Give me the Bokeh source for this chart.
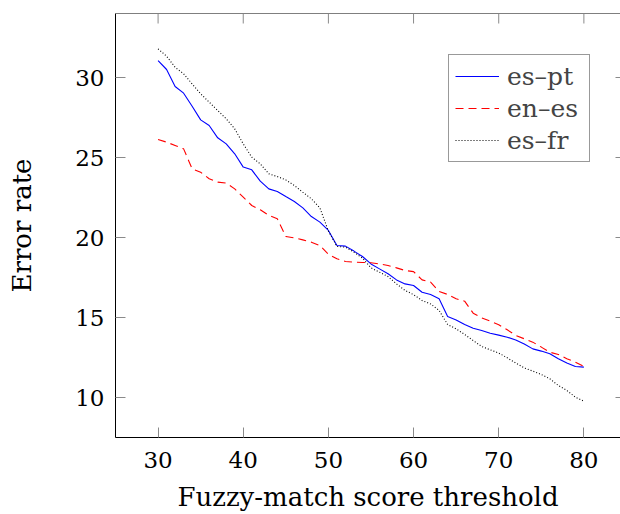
import math
from bokeh.plotting import figure
from bokeh.models import Range1d, FixedTicker, Legend, LegendItem, ColumnDataSource
from bokeh.embed import file_html
from bokeh.resources import INLINE

thresholds = list(range(30, 81))
es_pt = [31.06, 30.5, 29.44, 29.02, 28.2, 27.35, 27.0, 26.23, 25.85, 25.23,
         24.4, 24.23, 23.52, 23.04, 22.88, 22.56, 22.25, 21.85, 21.31, 20.96,
         20.44, 19.5, 19.46, 19.15, 18.81, 18.35, 18.04, 17.73, 17.35, 17.1,
         17.0, 16.58, 16.44, 16.17, 15.06, 14.85, 14.56, 14.33, 14.19, 14.02,
         13.9, 13.77, 13.6, 13.35, 13.04, 12.9, 12.73, 12.42, 12.15, 11.94, 11.9]
en_es = [26.13, 25.96, 25.75, 25.54, 24.29, 24.08, 23.67, 23.46, 23.4, 23.04,
         22.52, 22.0, 21.73, 21.38, 21.17, 20.06, 19.98, 19.85, 19.71, 19.5,
         18.95, 18.67, 18.5, 18.46, 18.44, 18.42, 18.35, 18.25, 18.1, 17.94,
         17.87, 17.35, 17.21, 16.63, 16.44, 16.17, 16.02, 15.27, 14.98, 14.77,
         14.55, 14.23, 13.88, 13.67, 13.46, 13.15, 12.83, 12.69, 12.42, 12.21, 11.94]
es_fr = [31.79, 31.33, 30.64, 30.23, 29.6, 28.98, 28.46, 27.94, 27.42, 26.79,
         25.85, 25.02, 24.6, 23.98, 23.81, 23.6, 23.25, 22.83, 22.42, 21.85,
         20.4, 19.44, 19.4, 19.08, 18.71, 18.1, 17.83, 17.56, 17.1, 16.69,
         16.43, 16.06, 15.85, 15.44, 14.56, 14.29, 13.94, 13.56, 13.19, 12.98,
         12.78, 12.48, 12.15, 11.85, 11.65, 11.44, 11.17, 10.75, 10.44, 10.02, 9.77]
x_ticks = [30, 40, 50, 60, 70, 80]
y_ticks = [10, 15, 20, 25, 30]
series_labels = ["es\u2013pt", "en\u2013es", "es\u2013fr"]

X_MIN, X_MAX = 25, 84.3
Y_MIN, Y_MAX = 7.5, 34

FONT = "DejaVu Serif"
TICK_FS = "23px"
LABEL_FS = "26px"
LEGEND_FS = "25px"
TICK_COLOR = "#8a8a8a"

src = ColumnDataSource(dict(x=thresholds, es_pt=es_pt, en_es=en_es, es_fr=es_fr))

p = figure(width=620, height=514, x_range=Range1d(X_MIN, X_MAX), y_range=Range1d(Y_MIN, Y_MAX),
           min_border_left=115, min_border_right=0, min_border_top=13, min_border_bottom=77,
           output_backend="svg", toolbar_location=None, background_fill_color="white",
           border_fill_color="white")
p.outline_line_color = None
p.xgrid.visible = False
p.ygrid.visible = False

def style_axis(ax):
    ax.axis_line_color = "black"
    ax.axis_line_width = 1
    ax.major_tick_in = 10
    ax.major_tick_out = 0
    ax.major_tick_line_color = TICK_COLOR
    ax.minor_tick_line_color = None
    ax.major_label_text_font = FONT
    ax.major_label_text_font_size = TICK_FS
    ax.major_label_text_color = "black"
    ax.axis_label_text_font = FONT
    ax.axis_label_text_font_size = LABEL_FS
    ax.axis_label_text_font_style = "normal"
    ax.axis_label_text_color = "black"

xa = p.xaxis[0]
xa.ticker = FixedTicker(ticks=x_ticks)
xa.axis_label = "Fuzzy-match score threshold"
style_axis(xa)
xa.major_label_standoff = 14
xa.axis_label_standoff = 11

ya = p.yaxis[0]
ya.ticker = FixedTicker(ticks=y_ticks)
ya.axis_label = "Error rate"
style_axis(ya)
ya.major_label_standoff = 11
ya.axis_label_standoff = 35

# top border line and mirrored ticks
p.line([X_MIN, X_MAX], [Y_MAX, Y_MAX], line_color="black", line_width=1)
p.ray(x=x_ticks, y=[Y_MAX] * len(x_ticks), length=10, length_units="screen",
      angle=-math.pi / 2, line_color=TICK_COLOR, line_width=1)
p.ray(x=[X_MAX] * len(y_ticks), y=y_ticks, length=5, length_units="screen",
      angle=math.pi, line_color=TICK_COLOR, line_width=1)

r1 = p.line("x", "es_pt", source=src, line_color="#0000ff", line_width=1.1)
r2 = p.line("x", "en_es", source=src, line_color="#ff0000", line_width=1.1, line_dash="8 5")
r3 = p.line("x", "es_fr", source=src, line_color="black", line_width=1.1, line_dash="1 2")

legend = Legend(items=[LegendItem(label=series_labels[0], renderers=[r1]),
                       LegendItem(label=series_labels[1], renderers=[r2]),
                       LegendItem(label=series_labels[2], renderers=[r3])],
                location=(333, 275), label_text_font=FONT, label_text_font_size=LEGEND_FS,
                glyph_width=44, glyph_height=30, label_height=30, label_width=76,
                label_standoff=8, padding=6, spacing=2,
                border_line_color="#333333", border_line_width=1, margin=0,
                background_fill_alpha=1.0)
p.add_layout(legend, "center")

open("out.html", "w").write(file_html(p, INLINE))
